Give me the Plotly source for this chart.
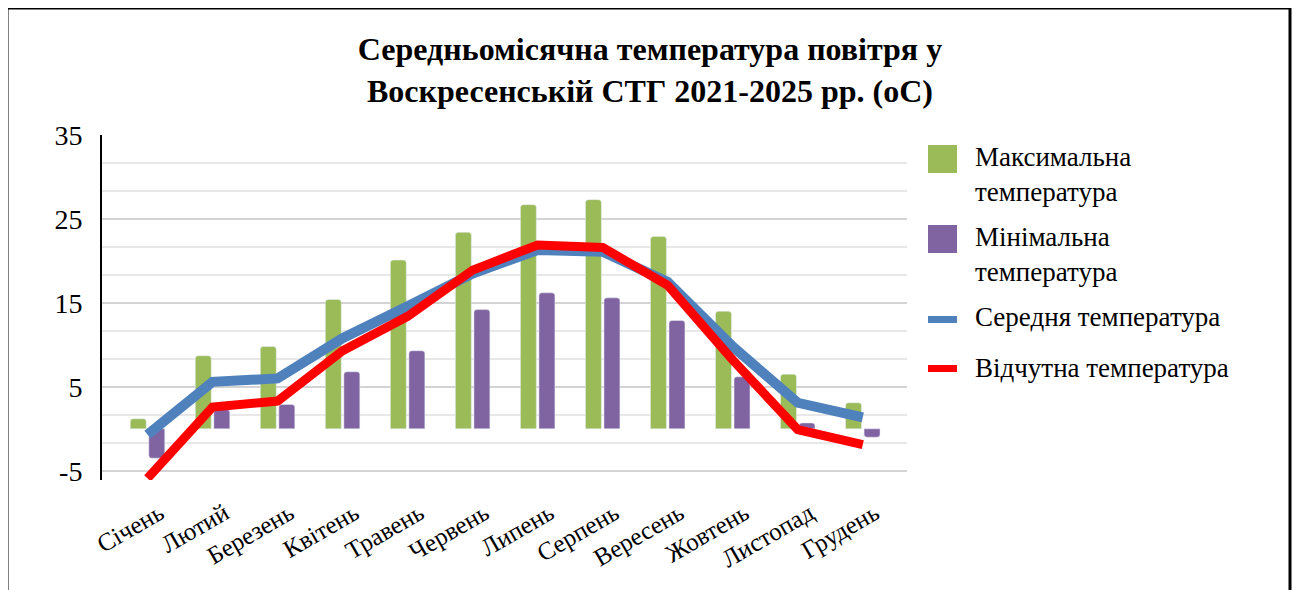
import plotly.graph_objects as go

months = ["Січень", "Лютий", "Березень", "Квітень", "Травень", "Червень",
          "Липень", "Серпень", "Вересень", "Жовтень", "Листопад", "Грудень"]
t_max = [1.2, 8.7, 9.8, 15.4, 20.1, 23.4, 26.7, 27.3, 22.9, 14.0, 6.5, 3.1]
t_min = [-3.5, 2.3, 2.9, 6.8, 9.3, 14.2, 16.2, 15.6, 12.9, 6.2, 0.7, -1.0]
t_mean = [-0.7, 5.6, 6.0, 10.8, 14.6, 18.5, 21.3, 21.1, 17.5, 9.8, 3.1, 1.35]
t_feel = [-5.9, 2.6, 3.3, 9.3, 13.4, 18.9, 21.9, 21.6, 17.1, 8.2, -0.1, -1.9]
y_ticks = [-5, 5, 15, 25, 35]
y_ticktext = ["-5", "5", "15", "25", "35"]

names = ["Максимальна температура", "Мінімальна температура",
         "Середня температура", "Відчутна температура"]
legend_text = ["Максимальна<br>температура", "Мінімальна<br>температура",
               "Середня температура", "Відчутна температура"]
colors = ["#9BBB59", "#8064A2", "#4F81BD", "#FF0000"]

SERIF = "Liberation Serif, DejaVu Serif, serif"

fig = go.Figure()
fig.add_trace(go.Bar(x=months, y=t_max, name=names[0], marker_color=colors[0]))
fig.add_trace(go.Bar(x=months, y=t_min, name=names[1], marker_color=colors[1]))
fig.add_trace(go.Scatter(x=months, y=t_mean, name=names[2], mode="lines",
                         line=dict(color=colors[2], width=10), cliponaxis=False))
fig.add_trace(go.Scatter(x=months, y=t_feel, name=names[3], mode="lines",
                         line=dict(color=colors[3], width=9), cliponaxis=False))

OFF = 8  # page body margin offsets the figure in the screenshot
L, R, T, B = 102 - OFF, 907 - OFF, 135 - OFF, 480 - OFF
W, H = 1302, 590
pw, ph = R - L, B - T

def px(x):
    return (x - OFF - L) / pw

def py(y):
    return (B - (y - OFF)) / ph

shapes = [dict(type="rect", xref="paper", yref="paper",
               x0=px(7), x1=px(1290), y0=py(620), y1=py(8),
               line=dict(color="black", width=3), layer="above")]
annotations = []
# legend (manual, to get Excel-sized keys)
sym_x0, sym_x1 = 928, 957
text_x = 973
sym_boxes = [(145, 173), (225, 253), (316, 323), (365, 372)]
text_centres = [174, 254, 317, 368]
for i in range(4):
    s0, s1 = sym_boxes[i]
    shapes.append(dict(type="rect", xref="paper", yref="paper",
                       x0=px(sym_x0), x1=px(sym_x1), y0=py(s1), y1=py(s0),
                       fillcolor=colors[i], line=dict(width=0)))
    annotations.append(dict(xref="paper", yref="paper", x=px(text_x), y=py(text_centres[i]),
                            xanchor="left", yanchor="middle", align="left",
                            text=legend_text[i], showarrow=False,
                            font=dict(family=SERIF, size=27, color="black")))

fig.update_layout(
    width=W, height=H,
    margin=dict(l=L, r=W - R, t=T, b=H - B, pad=0, autoexpand=False),
    paper_bgcolor="white", plot_bgcolor="white",
    barmode="group", bargap=0.43, bargroupgap=0.14, barcornerradius=3,
    title=dict(text="<b>Середньомісячна температура повітря у<br>Воскресенській СТГ 2021-2025 рр. (оС)</b>",
               xref="container", x=(650 - OFF) / W, xanchor="center",
               yref="container", y=1 - (60 - OFF) / H, yanchor="middle",
               font=dict(family=SERIF, size=32, color="black")),
    font=dict(family=SERIF, color="black"),
    showlegend=False,
    shapes=shapes,
    annotations=annotations,
)
fig.update_xaxes(range=[-0.7, 11.68], showline=False, showgrid=False, automargin=False,
                 tickangle=-30, tickfont=dict(family=SERIF, size=25, color="black"),
                 ticks="", zeroline=False, ticklabelshift=12, ticklabelstandoff=13)
fig.update_yaxes(range=[-6.1, 35], tickvals=y_ticks, ticktext=y_ticktext,
                 showline=True, linecolor="black", automargin=False,
                 linewidth=2, showgrid=True, gridcolor="#D3D3D3", gridwidth=2,
                 minor=dict(dtick=10 / 3, tick0=-5, showgrid=True, gridcolor="#E8E8E8",
                            gridwidth=2),
                 zeroline=False, ticks="", ticklabelstandoff=12,
                 tickfont=dict(family=SERIF, size=28, color="black"))

fig.write_html("out.html")
